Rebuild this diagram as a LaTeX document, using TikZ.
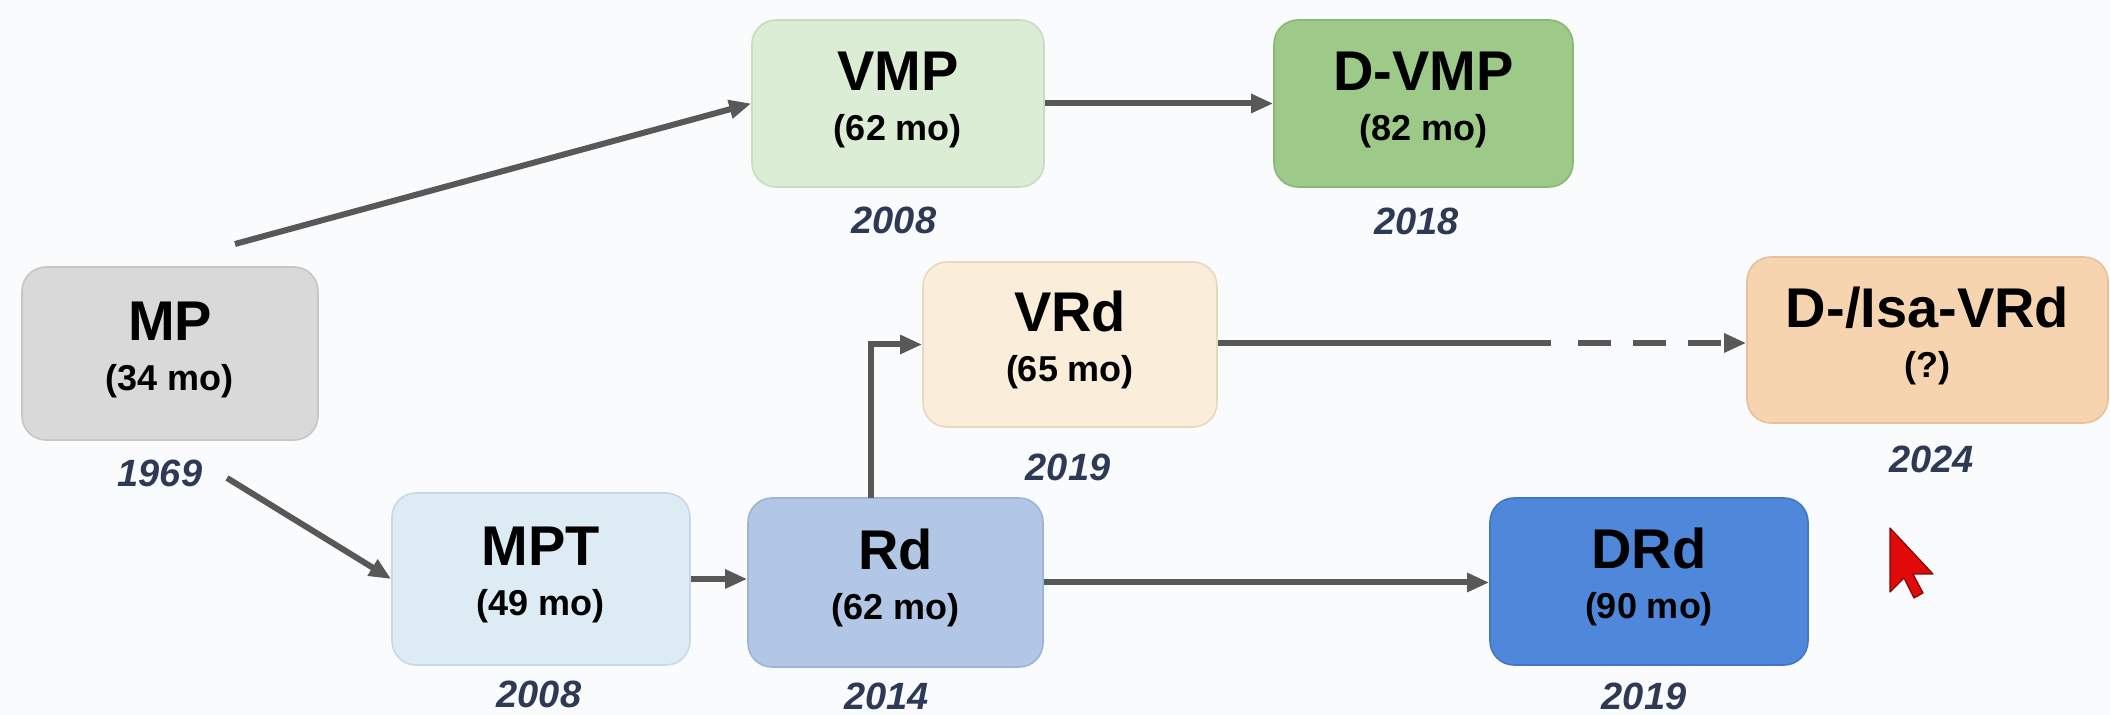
\documentclass[tikz,border=0pt]{standalone}
\usepackage{fontspec}
\setmainfont{Liberation Sans}
\usetikzlibrary{arrows.meta,calc}
\definecolor{bgc}{HTML}{FAFBFC}
\definecolor{cline}{HTML}{585858}
\definecolor{cyear}{HTML}{2E3A55}
\definecolor{fMP}{HTML}{D9D9D9}\definecolor{dMP}{HTML}{C6C6C6}
\definecolor{fVMP}{HTML}{DCEDD5}\definecolor{dVMP}{HTML}{C8DDBE}
\definecolor{fDVMP}{HTML}{9DCA88}\definecolor{dDVMP}{HTML}{8AB874}
\definecolor{fVRd}{HTML}{FAEEDB}\definecolor{dVRd}{HTML}{E8D8BF}
\definecolor{fDVRd}{HTML}{F7D4B0}\definecolor{dDVRd}{HTML}{E6C29C}
\definecolor{fMPT}{HTML}{DDEBF4}\definecolor{dMPT}{HTML}{C8D9E6}
\definecolor{fRd}{HTML}{B2C7E6}\definecolor{dRd}{HTML}{9EB4D6}
\definecolor{fDRd}{HTML}{4F87DA}\definecolor{dDRd}{HTML}{4476C6}
\definecolor{cursred}{HTML}{E00A0A}
\newcommand\boxttl[1]{\rule{0pt}{20pt}{\fontsize{28}{30}\selectfont\bfseries #1}}
\newcommand\boxmo[1]{{\bfseries #1}\rule[-8pt]{0pt}{8pt}}
\begin{document}
\begin{tikzpicture}[x=0.5pt,y=-0.5pt,
  box/.style={rounded corners=12pt, inner sep=0pt, align=center, line width=0.8pt,
    font=\fontsize{18}{25}\selectfont, text=black},
  year/.style={font=\fontsize{19}{22}\selectfont\bfseries\itshape, text=cyear, inner sep=0pt},
  arr/.style={draw=cline, line width=3pt, -{Triangle[length=11pt,width=9pt]}},
  plain/.style={draw=cline, line width=3pt},
  dsh/.style={draw=cline, line width=3pt, dash pattern=on 16.5pt off 11pt, -{Triangle[length=11pt,width=9pt]}}]
\fill[bgc] (0,0) rectangle (2110,715);
\useasboundingbox (0,0) rectangle (2110,715);
% boxes
\node[box, fill=fMP, draw=dMP, minimum width=148pt, minimum height=86.5pt] (MP) at (170,353.5) {\boxttl{MP}\\\boxmo{(34 mo)}};
\node[box, fill=fVMP, draw=dVMP, minimum width=146pt, minimum height=83.5pt] (VMP) at (898,103.5) {\boxttl{VMP}\\\boxmo{(62 mo)}};
\node[box, fill=fDVMP, draw=dDVMP, minimum width=149.5pt, minimum height=83.5pt] (DVMP) at (1423.5,103.5) {\boxttl{D-VMP}\\\boxmo{(82 mo)}};
\node[box, fill=fVRd, draw=dVRd, minimum width=147pt, minimum height=82.5pt] (VRd) at (1070,344.5) {\boxttl{VRd}\\\boxmo{(65 mo)}};
\node[box, fill=fDVRd, draw=dDVRd, minimum width=180.5pt, minimum height=83pt] (DVRd) at (1927.5,340) {\boxttl{D-/Isa-VRd}\\\boxmo{(?)}};
\node[box, fill=fMPT, draw=dMPT, minimum width=149pt, minimum height=86pt] (MPT) at (541,579) {\boxttl{MPT}\\\boxmo{(49 mo)}};
\node[box, fill=fRd, draw=dRd, minimum width=147.5pt, minimum height=84.5pt] (Rd) at (895.5,582.5) {\boxttl{Rd}\\\boxmo{(62 mo)}};
\node[box, fill=fDRd, draw=dDRd, minimum width=159pt, minimum height=83.5pt] (DRd) at (1649,581.5) {\boxttl{DRd}\\\boxmo{(90 mo)}};
% years
\node[year] (yMP) at ($(MP.south)+(-10,33)$) {1969};
\node[year] (yVMP) at ($(VMP.south)+(-4,33)$) {2008};
\node[year] (yDVMP) at ($(DVMP.south)+(-7,34)$) {2018};
\node[year] (yVRd) at ($(VRd.south)+(-2,40)$) {2019};
\node[year] (yDVRd) at ($(DVRd.south)+(4,36)$) {2024};
\node[year] (yMPT) at ($(MPT.south)+(-2,29)$) {2008};
\node[year] (yRd) at ($(Rd.south)+(-9,29)$) {2014};
\node[year] (yDRd) at ($(DRd.south)+(-5,31)$) {2019};
% connectors
\coordinate (s1) at (235,244);
\coordinate (s2) at (227,478);
\coordinate (vup) at (871,498);
\coordinate (brk) at (1551,343);
\coordinate (dst) at (1578,343);
\draw[arr] (s1) -- (VMP.west);
\draw[arr] (s2) -- (MPT.west);
\draw[arr] (VMP.east) -- (VMP.east -| DVMP.west);
\draw[arr] (MPT.east) -- (MPT.east -| Rd.west);
\draw[arr] (vup) |- (VRd.west);
\draw[plain] (VRd.east |- brk) -- (brk);
\draw[dsh] (dst) -- (dst -| DVRd.west);
\draw[arr] (Rd.east) -- (Rd.east -| DRd.west);
% mouse pointer
\coordinate (tip) at (1890,528);
\filldraw[fill=cursred, draw=cursred!60!black, line width=0.6pt, line join=round]
  (tip) -- ++(0,64) -- ++(14,-14) -- ++(10,20) -- ++(9,-5) -- ++(-10,-19) -- ++(20,0) -- cycle;
\end{tikzpicture}
\end{document}
